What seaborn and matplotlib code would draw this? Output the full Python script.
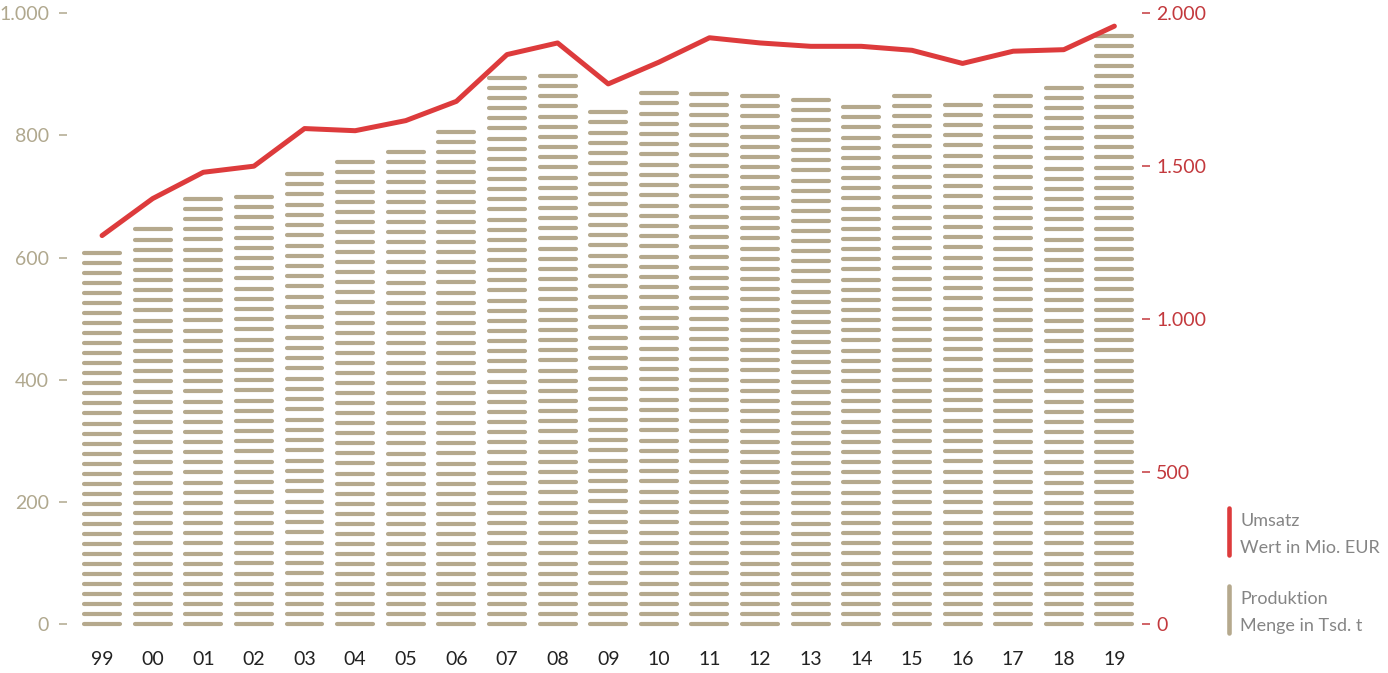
import numpy as np
import pandas as pd
import matplotlib
matplotlib.use("Agg")
import matplotlib.pyplot as plt
import seaborn as sns
from matplotlib.ticker import FuncFormatter
from matplotlib.lines import Line2D

# data
years = ["99", "00", "01", "02", "03", "04", "05", "06", "07", "08", "09",
         "10", "11", "12", "13", "14", "15", "16", "17", "18", "19"]
produktion = [608, 646, 696, 699, 737, 757, 773, 806, 894, 897, 838,
              869, 867, 864, 858, 846, 865, 850, 864, 878, 963]   # Tsd. t
umsatz = [1272, 1393, 1479, 1499, 1622, 1615, 1648, 1711, 1864, 1902, 1768,
          1839, 1919, 1902, 1891, 1891, 1878, 1835, 1875, 1880, 1957]  # Mio. EUR
left_ticks = [0, 200, 400, 600, 800, 1000]
right_ticks = [0, 500, 1000, 1500, 2000]

TAN = "#b5a98d"
TAN_LABEL = "#b0a88e"
RED = "#dd3b3c"
RED_LABEL = "#c3393d"
GREY = "#858585"

sns.set_style("white")
plt.rcParams["font.family"] = ["Lato", "DejaVu Sans"]

df = pd.DataFrame({"jahr": years, "produktion": produktion, "umsatz": umsatz})

fig = plt.figure(figsize=(13.88, 6.73), dpi=100)
ax = fig.add_axes([0.0553, 0.0721, 0.7658, 0.9086])

# bars only give the geometry; the visible marks are the stripes
sns.barplot(data=df, x="jahr", y="produktion", order=years, width=0.79,
            color=TAN, ax=ax)

step = 16.6          # spacing of stripes in data units
cap = 0.04           # room for the round caps
for p in ax.patches:
    p.set_alpha(0)
    h = p.get_height()
    n = int(round(h / step))
    ys = np.linspace(0, h, n + 1)
    ax.hlines(ys, p.get_x() + cap, p.get_x() + p.get_width() - cap,
              colors=TAN, linewidth=3.0, capstyle="round", clip_on=False)

ax.set_ylim(0, 1000)
ax.set_xlim(-0.5, len(years) - 0.5)
ax.set_yticks(left_ticks)
ax.yaxis.set_major_formatter(FuncFormatter(lambda v, _: f"{int(v):,}".replace(",", ".")))
ax.set_xlabel("")
ax.set_ylabel("")
for s in ax.spines.values():
    s.set_visible(False)
ax.spines["left"].set_position(("outward", 7))
ax.tick_params(axis="y", length=6, width=1.1, color=TAN_LABEL, labelcolor=TAN_LABEL,
               labelsize=14, pad=7, left=True)
ax.tick_params(axis="x", length=0, pad=19, labelsize=14, labelcolor="#222222")

# revenue line on the right axis
ax2 = ax.twinx()
sns.lineplot(x=np.arange(len(years)), y=umsatz, color=RED, linewidth=3.6,
             ax=ax2, solid_joinstyle="round", solid_capstyle="round")
ax2.set_ylim(0, 2000)
ax2.set_yticks(right_ticks)
ax2.yaxis.set_major_formatter(FuncFormatter(lambda v, _: f"{int(v):,}".replace(",", ".")))
for s in ax2.spines.values():
    s.set_visible(False)
ax2.spines["right"].set_position(("outward", 2))
ax2.tick_params(axis="y", length=6, width=1.1, color=RED_LABEL, labelcolor=RED_LABEL,
                labelsize=14, pad=4, right=True)

# legend: coloured bars with two-line captions
W, H = 1388, 673
def px(x, y):
    return x / W, 1 - y / H

for (y0, y1), col, l1, l2 in [((508, 555), RED, "Umsatz", "Wert in Mio. EUR"),
                              ((586, 633), TAN, "Produktion", "Menge in Tsd. t")]:
    (xa, ya), (xb, yb) = px(1229, y0), px(1229, y1)
    fig.add_artist(Line2D([xa, xb], [ya, yb], color=col, linewidth=3.3,
                          solid_capstyle="round", transform=fig.transFigure))
    fig.text(*px(1240, y0 + 13), l1, color=GREY, fontsize=13, va="center")
    fig.text(*px(1240, y0 + 40), l2, color=GREY, fontsize=13, va="center")

fig.savefig("out.png", dpi=100)
